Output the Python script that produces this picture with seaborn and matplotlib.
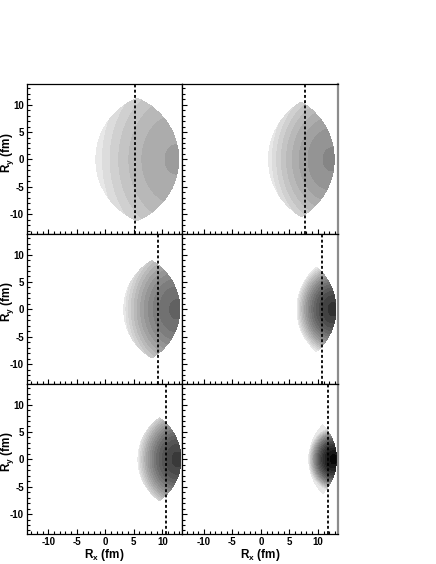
import numpy as np
import matplotlib
matplotlib.use("Agg")
import matplotlib.pyplot as plt
import seaborn as sns

# values, one entry per panel (row by row)
lens_left = [-1.7, 1.3, 3.2, 6.3, 5.7, 8.4]          # left tip of the overlap region (fm)
lens_right = [12.9, 12.9, 13.1, 13.2, 13.3, 13.3]    # right tip (fm)
lens_half_height = [11.2, 10.5, 8.9, 7.75, 7.6, 6.3]  # half height at the middle (fm)
dark_x = [12.5, 12.5, 12.6, 12.7, 12.7, 12.8]         # centre of the darkest spot (fm)
peak_value = [0.31, 0.41, 0.56, 0.76, 0.73, 0.94]     # darkest shade reached (0 = light, 1 = black)
dashed_x = [5.3, 7.8, 9.2, 10.8, 10.6, 11.7]          # dotted vertical line (fm)
band_step = 0.05                                      # shade step between contour bands

x_range = (-13.8, 13.5)
y_range = (-13.7, 13.7)

sns.set_theme(style="white")
plt.rcParams["font.family"] = ["Liberation Sans", "DejaVu Sans"]
plt.rcParams["font.weight"] = "bold"
plt.rcParams["axes.unicode_minus"] = False
plt.rcParams["text.color"] = "black"
plt.rcParams["axes.labelcolor"] = "black"
plt.rcParams["xtick.color"] = "black"
plt.rcParams["ytick.color"] = "black"
plt.rcParams["mathtext.fontset"] = "custom"
plt.rcParams["mathtext.rm"] = "Liberation Sans:bold"
plt.rcParams["mathtext.default"] = "rm"

cmap = sns.blend_palette(["#eeeeee", "#000000"], as_cmap=True)

fig = plt.figure(figsize=(4.36, 5.64), dpi=100)
col_x = [26.7 / 436, 182.3 / 436]
col_w = 155.5 / 436
row_y = [1 - 234.4 / 564, 1 - 384.3 / 564, 1 - 534.3 / 564]
row_h = 150 / 564

gx = np.linspace(x_range[0], x_range[1], 600)
gy = np.linspace(y_range[0], y_range[1], 600)
X, Y = np.meshgrid(gx, gy)

for i in range(6):
    r, c = divmod(i, 2)
    ax = fig.add_axes([col_x[c], row_y[r], col_w, row_h])

    # overlap region = intersection of two circles through the measured tips
    L, Rt, hh = lens_left[i], lens_right[i], lens_half_height[i]
    hw = (Rt - L) / 2
    rad = (hw ** 2 + hh ** 2) / (2 * hw)
    inside = ((X - (L + rad)) ** 2 + Y ** 2 <= rad ** 2) & ((X - (Rt - rad)) ** 2 + Y ** 2 <= rad ** 2)

    pk = peak_value[i]
    dist = np.sqrt((X - dark_x[i]) ** 2 + (0.75 * Y) ** 2)
    val = pk * (1 - (dist / (dark_x[i] - L)) ** 2)
    val = np.clip(val, 0.001, None)
    field = np.ma.masked_where(~inside, val)

    n = max(int(round(pk / band_step)), 1)
    levels = list(np.linspace(0, pk * 0.98, n + 1)) + [min(pk + 1.5 * band_step, 1.1)]
    ax.contourf(X, Y, field, levels=levels, cmap=cmap, vmin=0, vmax=1, antialiased=False)
    ax.axvline(dashed_x[i], color="black", lw=1.3, ls=(0, (1.6, 1.3)))

    ax.set_xlim(x_range)
    ax.set_ylim(y_range)
    ax.set_xticks([-10, -5, 0, 5, 10])
    ax.set_yticks([-10, -5, 0, 5, 10])
    ax.set_xticks(np.arange(-13, 14, 1), minor=True)
    ax.set_yticks(np.arange(-13, 14, 1), minor=True)
    ax.tick_params(which="both", direction="in", left=True, bottom=True, top=False, right=False,
                   labelsize=7, pad=2, width=0.8)
    ax.tick_params(which="major", length=3.8)
    ax.tick_params(which="minor", length=2)
    for s in ax.spines.values():
        s.set_color("black")
        s.set_linewidth(0.9)
    if c == 1:
        ax.spines["right"].set_color("#8c8c8c")
        ax.spines["right"].set_linewidth(1.6)
        ax.set_yticklabels([])
    else:
        ax.set_ylabel("R$_{y}$ (fm)", fontsize=8.5, fontweight="bold")
        ax.yaxis.set_label_coords(-0.07, 0.547)
    if r < 2:
        ax.set_xticklabels([])
    else:
        ax.set_xlabel("R$_{x}$ (fm)", fontsize=8.5, fontweight="bold")
        ax.xaxis.set_label_coords(0.5, -0.085)

fig.savefig("out.png", dpi=100)
